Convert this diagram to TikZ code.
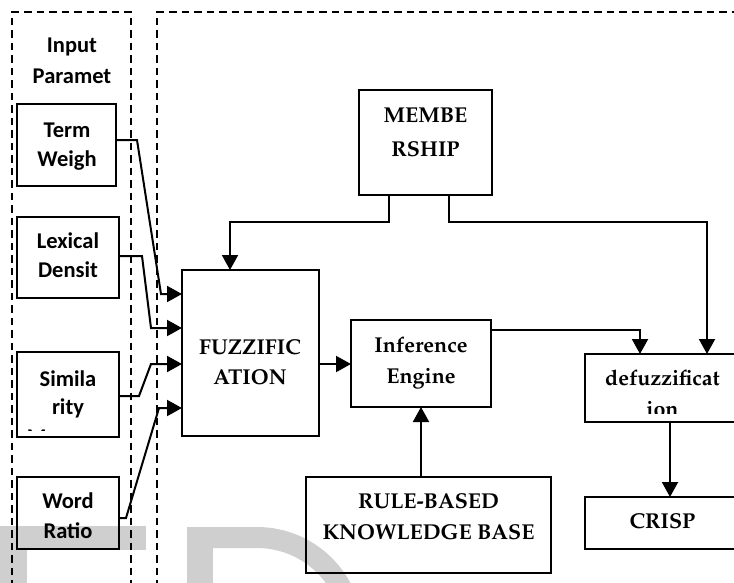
\documentclass[tikz,border=0pt]{standalone}
\usepackage[T1]{fontenc}
\usepackage{fontspec}
\usetikzlibrary{arrows.meta}
\newfontfamily\sidefont{Carlito}
\newcommand\blockfont{\fontencoding{T1}\fontfamily{ppl}\fontseries{b}\fontshape{n}\fontsize{21.5}{26}\selectfont}
\newcommand\paramfont{\sidefont\bfseries\fontsize{22.5}{27}\selectfont}
\definecolor{wmgray}{HTML}{CFCFCF}

\begin{document}
\begin{tikzpicture}[x=1pt,y=-1pt,
  box/.style={draw, rectangle, line width=2.1pt, inner sep=0pt, outer sep=0pt},
  frame/.style={draw, line width=2pt, dash pattern=on 7.5pt off 5pt},
  link/.style={draw, line width=2pt, line join=miter},
  arr/.style={link, -{Triangle[length=15pt,width=16pt]}},
  par/.style={anchor=base, inner sep=0pt, font=\paramfont},
  blk/.style={anchor=base, inner sep=0pt, font=\blockfont}]

\useasboundingbox (0,0) rectangle (734,582);
\clip (0,0) rectangle (734,582);

% light watermark lettering behind the chart
\fill[wmgray] (0,526) rectangle (146,550);
\fill[wmgray] (0,550) rectangle (27,600);
\fill[wmgray] (187,527) rectangle (213,600);
\fill[wmgray] (213,527) -- (257,527) arc[start angle=-90, end angle=0, radius=106]
  -- (342,633) arc[start angle=0, end angle=-90, radius=85] -- (213,548) -- cycle;

% dashed group frames
\draw[frame] (12,600) -- (12,12) -- (131,12) -- (131,600);
\draw[frame] (157,600) -- (157,12) -- (760,12);

% input parameter column
\node[par] (in1) at (72,52) {Input};
\node[par] (in2) at (72,83) {Paramet};

\node[box, minimum width=99pt, minimum height=82pt] (term) at (66.5,145) {};
\node[par] (term1) at (67,137) {Term};
\node[par] (term2) at (67,166) {Weigh};

\node[box, minimum width=102pt, minimum height=81pt] (lex) at (68,257.5) {};
\node[par] (lex1) at (68,248) {Lexical};
\node[par] (lex2) at (68,277) {Densit};

\node[box, minimum width=102pt, minimum height=85pt] (sim) at (68,394.5) {};
\node[par] (sim1) at (68,386) {Simila};
\node[par] (sim2) at (68,414) {rity};
\begin{scope}
  \clip (17,352) rectangle (119,430.5);
  \node[par] (sim3) at (68,444) {Measure};
\end{scope}

\node[box, minimum width=102pt, minimum height=72pt] (word) at (68,513) {};
\node[par] (word1) at (68,508) {Word};
\node[par] (word2) at (68,538) {Ratio};

% fuzzy inference blocks
\node[box, minimum width=137pt, minimum height=166pt] (fuzz) at (250.5,353) {};
\node[blk] (fuzz1) at (250,354) {FUZZIFIC};
\node[blk] (fuzz2) at (250,384) {ATION};

\node[box, minimum width=133pt, minimum height=105pt] (memb) at (425.5,142.5) {};
\node[blk] (memb1) at (425.5,122) {MEMBE};
\node[blk] (memb2) at (425.5,156) {RSHIP};

\node[box, minimum width=140pt, minimum height=87pt] (inf) at (421,363.5) {};
\node[blk] (inf1) at (421,352) {Inference};
\node[blk] (inf2) at (421,383) {Engine};

\node[box, minimum width=155pt, minimum height=68pt] (defz) at (662.5,388) {};
\begin{scope}
  \clip (585,354) rectangle (740,413);
  \node[blk] (defz1) at (662.5,385) {defuzzificat};
  \node[blk] (defz2) at (662.5,416) {ion};
\end{scope}

\node[box, minimum width=155pt, minimum height=52pt] (crisp) at (662.5,523) {};
\node[blk] (crisp1) at (662.5,528) {CRISP};

\node[box, minimum width=245pt, minimum height=96pt] (rule) at (428.5,525) {};
\node[blk] (rule1) at (428.5,508) {RULE-BASED};
\node[blk] (rule2) at (428.5,539) {KNOWLEDGE BASE};

% inputs into fuzzification
\draw[arr] (term.east |- 0,140) -- (137,140) -- (161,294) -- (fuzz.west |- 0,294);
\draw[arr] (lex.east |- 0,256) -- (142,256) -- (151,328) -- (fuzz.west |- 0,328);
\draw[arr] (sim.east |- 0,396) -- (139,396) -- (151,364) -- (fuzz.west |- 0,364);
\draw[arr] (word.east |- 0,518) -- (126,518) -- (159,408) -- (fuzz.west |- 0,408);

% membership functions feed both ends
\draw[arr] (memb.south -| 389,0) -- (389,222) -- (230,222) -- (fuzz.north -| 230,0);
\draw[arr] (memb.south -| 449,0) -- (449,222) -- (707,222) -- (defz.north -| 707,0);

% main processing chain
\draw[arr] (fuzz.east |- 0,364) -- (inf.west |- 0,364);
\draw[arr] (inf.east |- 0,330) -- (640,330) -- (defz.north -| 640,0);
\draw[arr] (rule.north -| 421,0) -- (inf.south -| 421,0);
\draw[arr] (defz.south -| 670,0) -- (crisp.north -| 670,0);
\end{tikzpicture}
\end{document}
